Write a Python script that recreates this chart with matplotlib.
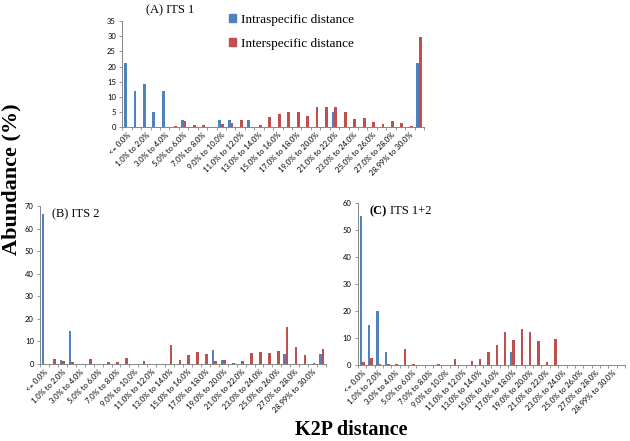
import matplotlib
matplotlib.use("Agg")
import matplotlib.pyplot as plt
from matplotlib.patches import Patch
import numpy as np

# K2P distance classes (32 bins, every other one labelled)
categories = [
    "<= 0.0%", "0.0% to 1.0%", "1.0% to 2.0%", "2.0% to 3.0%", "3.0% to 4.0%",
    "4.0% to 5.0%", "5.0% to 6.0%", "6.0% to 7.0%", "7.0% to 8.0%", "8.0% to 9.0%",
    "9.0% to 10.0%", "10.0% to 11.0%", "11.0% to 12.0%", "12.0% to 13.0%",
    "13.0% to 14.0%", "14.0% to 15.0%", "15.0% to 16.0%", "16.0% to 17.0%",
    "17.0% to 18.0%", "18.0% to 19.0%", "19.0% to 20.0%", "20.0% to 21.0%",
    "21.0% to 22.0%", "22.0% to 23.0%", "23.0% to 24.0%", "24.0% to 25.0%",
    "25.0% to 26.0%", "26.0% to 27.0%", "27.0% to 28.0%", "28.0% to 28.99%",
    "28.99% to 30.0%", "> 30.0%",
]

its1_intra = [21.3, 11.9, 14.3, 4.8, 11.9, 0, 2.3, 0, 0, 0, 2.3, 2.3, 0, 2.3, 0, 0,
              0, 0, 0, 0, 0, 0, 4.8, 0, 0, 0, 0, 0, 0, 0, 0, 21.3]
its1_inter = [0, 0, 0, 0, 0, 0.4, 2.0, 0.7, 0.6, 0, 0.9, 1.4, 2.2, 0, 0.6, 3.3,
              4.3, 4.8, 5.0, 3.7, 6.5, 6.6, 6.5, 4.8, 2.7, 3.0, 1.7, 0.9, 2.0, 1.3, 0.2, 29.8]

its2_intra = [66.5, 0, 1.8, 14.5, 0, 0, 0, 0, 0, 0, 0, 0, 0, 0, 0, 0,
              0, 0, 0, 6.2, 1.9, 0, 0, 0, 0, 0, 0, 4.2, 0, 0, 0, 4.2]
its2_inter = [0, 2.3, 1.3, 1.0, 0, 2.0, 0, 0.8, 1.0, 2.6, 0, 1.3, 0, 0, 8.2, 1.6,
              3.7, 5.1, 4.4, 1.3, 1.9, 0.5, 1.3, 4.6, 5.1, 4.9, 5.6, 16.2, 7.5, 3.8, 0.5, 6.4]

its12_intra = [55, 15, 20, 4.8, 0, 0, 0, 0, 0, 0, 0, 0, 0, 0, 0, 0,
               0, 0, 4.8, 0, 0, 0, 0, 0, 0, 0, 0, 0, 0, 0, 0, 0]
its12_inter = [1.0, 2.7, 0.6, 0.6, 0.5, 6.1, 0.5, 0, 0, 0.5, 0, 2.1, 0, 1.7, 2.3, 4.9,
               7.6, 12.2, 9.3, 13.4, 12.4, 9.0, 1.0, 9.7, 0, 0, 0, 0, 0, 0, 0, 0]

BLUE = "#4F81BD"
RED = "#C0504D"
AXIS_GREY = "#868686"
SERIF = "Liberation Serif"
TICKFONT = "Lato"


def draw_panel(ax, intra, inter, ymax, ystep):
    x = np.arange(len(categories))
    w = 0.3
    ax.bar(x - w / 2, intra, width=w, color=BLUE, edgecolor="none")
    ax.bar(x + w / 2, inter, width=w, color=RED, edgecolor="none")
    ax.set_xlim(-0.5, len(categories) - 0.5)
    ax.set_ylim(0, ymax)
    ax.set_yticks(np.arange(0, ymax + 1, ystep))
    ax.set_xticks(x[::2])
    ax.set_xticklabels(categories[::2], rotation=45, ha="right",
                       rotation_mode="anchor", fontsize=5.5, family=TICKFONT)
    ax.set_xticks(np.arange(-0.5, len(categories), 1), minor=True)
    ax.tick_params(axis="x", which="major", length=0, pad=3)
    ax.tick_params(axis="x", which="minor", length=2.5, color=AXIS_GREY, width=0.6)
    ax.tick_params(axis="y", length=2.5, color=AXIS_GREY, width=0.6, pad=2,
                   labelsize=5.5)
    for lab in ax.get_yticklabels():
        lab.set_family(TICKFONT)
    for s in ("top", "right"):
        ax.spines[s].set_visible(False)
    for s in ("left", "bottom"):
        ax.spines[s].set_color(AXIS_GREY)
        ax.spines[s].set_linewidth(0.7)


fig = plt.figure(figsize=(6.3, 4.41), dpi=100)

ax_a = fig.add_axes([0.194, 0.712, 0.479, 0.240])
draw_panel(ax_a, its1_intra, its1_inter, 35, 5)

ax_b = fig.add_axes([0.0635, 0.175, 0.454, 0.358])
draw_panel(ax_b, its2_intra, its2_inter, 70, 10)

ax_c = fig.add_axes([0.568, 0.172, 0.424, 0.368])
draw_panel(ax_c, its12_intra, its12_inter, 60, 10)

fig.text(0.27, 0.977, "(A) ITS 1", family=SERIF, fontsize=9, ha="center", va="center")
fig.text(0.12, 0.515, "(B) ITS 2", family=SERIF, fontsize=9, ha="center", va="center")
fig.text(0.587, 0.522, "(C)", family=SERIF, fontsize=9, weight="bold",
         ha="left", va="center")
fig.text(0.619, 0.522, "ITS 1+2", family=SERIF, fontsize=9, ha="left", va="center")

handles = [Patch(color=BLUE), Patch(color=RED)]
fig.legend(handles, ["Intraspecific distance", "Interspecific distance"],
           loc="upper left", bbox_to_anchor=(0.355, 0.98), frameon=False,
           prop={"family": SERIF, "size": 9.5}, handlelength=0.55, handleheight=0.55,
           handletextpad=0.4, labelspacing=0.9, borderaxespad=0)

fig.text(0.019, 0.593, "Abundance (%)", family=SERIF, fontsize=16, weight="bold",
         rotation=90, ha="center", va="center")
fig.text(0.557, 0.025, "K2P distance", family=SERIF, fontsize=14.5, weight="bold",
         ha="center", va="center")

fig.savefig("out.png", dpi=100)
